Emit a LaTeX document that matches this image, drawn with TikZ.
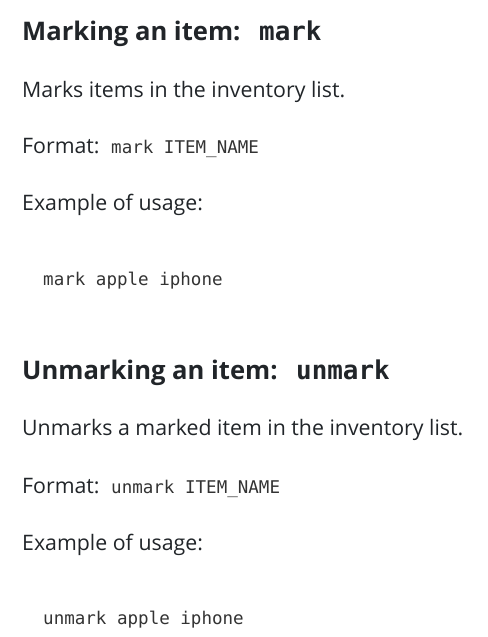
\documentclass[tikz,border=0pt]{standalone}
\usepackage{fontspec}
\setmainfont{Open Sans}
\setmonofont{DejaVu Sans Mono}
\usetikzlibrary{positioning}
\definecolor{textdark}{HTML}{212529}
\definecolor{codegray}{HTML}{333333}
\tikzstyle{heading} = [inner sep=0pt, anchor=base west, text=textdark, font=\fontsize{25.7}{32}\selectfont\bfseries]
\tikzstyle{headcode} = [inner sep=0pt, anchor=base west, text=textdark, font=\fontsize{26}{32}\selectfont\ttfamily\bfseries]
\tikzstyle{body} = [inner sep=0pt, anchor=base west, text=textdark, font=\fontsize{21.4}{26}\selectfont]
\tikzstyle{code} = [inner sep=0pt, anchor=base west, text=codegray, font=\fontsize{17.6}{22}\selectfont\ttfamily]

\begin{document}
\begin{tikzpicture}[x=1bp, y=-1bp]
		\useasboundingbox[fill=white] (0,0) rectangle (488,637);
		% marking
		\node (MarkTitle) [heading] at (22,40.7) {Marking an item:};
		\node (MarkTitleCode) [headcode] at (259,40.7) {mark};
		\node (MarkText) [body] at (22,97.3) {Marks items in the inventory list.};
		\node (MarkFormat) [body] at (22,153.3) {Format:};
		\node (MarkFormatCode) [code] at (111,153.3) {mark ITEM\_NAME};
		\node (MarkExample) [body] at (22,210) {Example of usage:};
		\node (MarkExampleCode) [code] at (43,285.7) {mark apple iphone};
		% unmarking
		\node (UnmarkTitle) [heading] at (22,379.3) {Unmarking an item:};
		\node (UnmarkTitleCode) [headcode] at (296,379.3) {unmark};
		\node (UnmarkText) [body] at (22,435) {Unmarks a marked item in the inventory list.};
		\node (UnmarkFormat) [body] at (22,493.3) {Format:};
		\node (UnmarkFormatCode) [code] at (111,493.3) {unmark ITEM\_NAME};
		\node (UnmarkExample) [body] at (22,550) {Example of usage:};
		\node (UnmarkExampleCode) [code] at (43,624.3) {unmark apple iphone};
\end{tikzpicture}
\end{document}
